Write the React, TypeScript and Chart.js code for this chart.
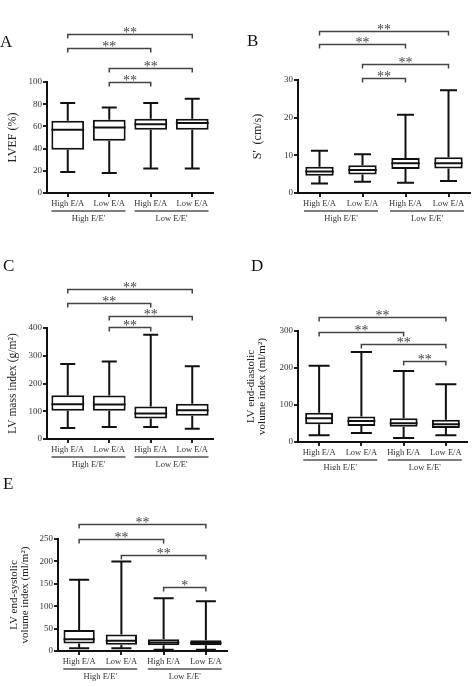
import React, { useEffect, useRef } from 'react';
import { Chart, registerables } from 'chart.js';
Chart.register(...registerables);

const FONT = "'Liberation Serif', 'DejaVu Serif', serif";

const categories = ['High E/A', 'Low E/A', 'High E/A', 'Low E/A'];
const groupLabels = ["High E/E'", "Low E/E'"];

// Panel A: LVEF (%)
const lvefMin = [19, 18, 22, 22];
const lvefQ1 = [39, 47, 57, 57];
const lvefMedian = [57, 59, 62, 63];
const lvefQ3 = [65, 66, 67, 67];
const lvefMax = [81, 77, 81, 85];
const lvefTicks = [0, 20, 40, 60, 80, 100];

// Panel B: S' (cm/s)
const sMin = [2.5, 3.0, 2.7, 3.2];
const sQ1 = [4.6, 4.9, 6.4, 6.5];
const sMedian = [5.7, 6.1, 7.9, 7.9];
const sQ3 = [7.0, 7.4, 9.3, 9.5];
const sMax = [11.2, 10.3, 20.8, 27.3];
const sTicks = [0, 10, 20, 30];

// Panel C: LV mass index (g/m2)
const massMin = [40, 43, 43, 37];
const massQ1 = [102, 102, 74, 84];
const massMedian = [125, 124, 92, 104];
const massQ3 = [158, 157, 117, 127];
const massMax = [270, 279, 376, 262];
const massTicks = [0, 100, 200, 300, 400];

// Panel D: LV end-diastolic volume index (ml/m2)
const edviMin = [18, 24, 11, 18];
const edviQ1 = [48, 43, 41, 38];
const edviMedian = [64, 57, 51, 48];
const edviQ3 = [79, 69, 64, 60];
const edviMax = [206, 243, 192, 156];
const edviTicks = [0, 100, 200, 300];

// Panel E: LV end-systolic volume index (ml/m2)
const esviMin = [6, 6, 3, 3];
const esviQ1 = [17, 14, 13, 13];
const esviMedian = [26, 23, 19, 18];
const esviQ3 = [47, 37, 26, 24];
const esviMax = [159, 200, 118, 111];
const esviTicks = [0, 50, 100, 150, 200, 250];

// Significance brackets: [from, to, level (data units), label]
const lvefSig: [number, number, number, string][] = [[0, 3, 143, '**'], [0, 2, 131, '**'], [1, 3, 113, '**'], [1, 2, 100, '**']];
const sSig: [number, number, number, string][] = [[0, 3, 43, '**'], [0, 2, 39.6, '**'], [1, 3, 34.3, '**'], [1, 2, 30.5, '**']];
const massSig: [number, number, number, string][] = [[0, 3, 540, '**'], [0, 2, 490, '**'], [1, 3, 443, '**'], [1, 2, 404, '**']];
const edviSig: [number, number, number, string][] = [[0, 3, 338, '**'], [0, 2, 297, '**'], [1, 3, 265, '**'], [2, 3, 219, '**']];
const esviSig: [number, number, number, string][] = [[0, 3, 283, '**'], [0, 2, 250, '**'], [1, 3, 214, '**'], [2, 3, 143, '*']];

type PanelCfg = {
  letter: string;
  rect: { x: number; y: number; w: number; h: number };
  letterPos: { x: number; y: number };
  yW: number; padT: number; padR: number; xH: number;
  catPct: number; cap: number;
  title: string | string[]; titleSize: number; titleLH: number; titlePad: number;
  min: number[]; q1: number[]; med: number[]; q3: number[]; max: number[];
  ticks: number[];
  sig: [number, number, number, string][];
};

const panels: PanelCfg[] = [
  {
    letter: 'A', rect: { x: 0, y: 0, w: 235, h: 230 }, letterPos: { x: 0, y: 47 },
    yW: 47, padT: 82, padR: 22, xH: 37, catPct: 0.79, cap: 15,
    title: 'LVEF (%)', titleSize: 12, titleLH: 1.2, titlePad: 6,
    min: lvefMin, q1: lvefQ1, med: lvefMedian, q3: lvefQ3, max: lvefMax, ticks: lvefTicks, sig: lvefSig,
  },
  {
    letter: 'B', rect: { x: 235, y: 0, w: 240, h: 230 }, letterPos: { x: 12, y: 46 },
    yW: 63, padT: 80, padR: 5, xH: 37, catPct: 0.66, cap: 17,
    title: "S'  (cm/s)", titleSize: 12, titleLH: 1.2, titlePad: 16,
    min: sMin, q1: sQ1, med: sMedian, q3: sQ3, max: sMax, ticks: sTicks, sig: sSig,
  },
  {
    letter: 'C', rect: { x: 0, y: 230, w: 235, h: 240 }, letterPos: { x: 3, y: 41 },
    yW: 47, padT: 98, padR: 22, xH: 31, catPct: 0.79, cap: 15,
    title: 'LV mass index (g/m²)', titleSize: 11.5, titleLH: 1.2, titlePad: 6,
    min: massMin, q1: massQ1, med: massMedian, q3: massQ3, max: massMax, ticks: massTicks, sig: massSig,
  },
  {
    letter: 'D', rect: { x: 235, y: 230, w: 240, h: 240 }, letterPos: { x: 16, y: 41 },
    yW: 63, padT: 101, padR: 8, xH: 28, catPct: 0.66, cap: 21,
    title: ['LV end-diastolic', 'volume index (ml/m²)'], titleSize: 11, titleLH: 1, titlePad: 11,
    min: edviMin, q1: edviQ1, med: edviMedian, q3: edviQ3, max: edviMax, ticks: edviTicks, sig: edviSig,
  },
  {
    letter: 'E', rect: { x: 0, y: 470, w: 240, h: 217 }, letterPos: { x: 3, y: 19 },
    yW: 58, padT: 69, padR: 13, xH: 36, catPct: 0.74, cap: 20,
    title: ['LV end-systolic', 'volume index (ml/m²)'], titleSize: 11, titleLH: 1, titlePad: 9,
    min: esviMin, q1: esviQ1, med: esviMedian, q3: esviQ3, max: esviMax, ticks: esviTicks, sig: esviSig,
  },
];

function Panel({ cfg }: { cfg: PanelCfg }) {
  const ref = useRef<HTMLCanvasElement>(null);
  useEffect(() => {
    const extras = {
      id: 'boxExtras',
      afterDatasetsDraw(chart: any) {
        const { ctx, scales } = chart;
        const x = scales.x, y = scales.y;
        const meta = chart.getDatasetMeta(0);
        ctx.save();
        ctx.strokeStyle = '#111';
        ctx.lineWidth = 2;
        ctx.lineCap = 'butt';
        cfg.min.forEach((mn, i) => {
          const cx = x.getPixelForValue(i);
          const half = meta.data[i].width / 2;
          const yMin = y.getPixelForValue(mn);
          const yMax = y.getPixelForValue(cfg.max[i]);
          const yQ1 = y.getPixelForValue(cfg.q1[i]);
          const yQ3 = y.getPixelForValue(cfg.q3[i]);
          const yMed = y.getPixelForValue(cfg.med[i]);
          ctx.beginPath();
          ctx.moveTo(cx, yQ3); ctx.lineTo(cx, yMax);
          ctx.moveTo(cx, yQ1); ctx.lineTo(cx, yMin);
          ctx.moveTo(cx - cfg.cap / 2, yMax); ctx.lineTo(cx + cfg.cap / 2, yMax);
          ctx.moveTo(cx - cfg.cap / 2, yMin); ctx.lineTo(cx + cfg.cap / 2, yMin);
          ctx.moveTo(cx - half, yMed); ctx.lineTo(cx + half, yMed);
          ctx.stroke();
        });
        ctx.restore();
      },
      afterDraw(chart: any) {
        const { ctx, scales, chartArea } = chart;
        const x = scales.x, y = scales.y;
        ctx.save();
        // significance brackets
        ctx.strokeStyle = '#444';
        ctx.lineWidth = 1.5;
        ctx.fillStyle = '#444';
        ctx.font = `14px ${FONT}`;
        ctx.textAlign = 'center';
        ctx.textBaseline = 'alphabetic';
        cfg.sig.forEach(([a, b, level, label]) => {
          const x1 = x.getPixelForValue(a);
          const x2 = x.getPixelForValue(b);
          const yy = Math.round(y.getPixelForValue(level)) + 0.5;
          ctx.beginPath();
          ctx.moveTo(x1, yy + 4); ctx.lineTo(x1, yy); ctx.lineTo(x2, yy); ctx.lineTo(x2, yy + 4);
          ctx.stroke();
          ctx.fillText(label, (x1 + x2) / 2, yy + 2);
        });
        // group labels
        ctx.font = `8.5px ${FONT}`;
        ctx.fillStyle = '#333';
        ctx.strokeStyle = '#555';
        ctx.textBaseline = 'middle';
        groupLabels.forEach((g, gi) => {
          const c = (x.getPixelForValue(gi * 2) + x.getPixelForValue(gi * 2 + 1)) / 2;
          const ly = chartArea.bottom + 18;
          ctx.beginPath();
          ctx.moveTo(c - 37, ly); ctx.lineTo(c + 37, ly);
          ctx.stroke();
          ctx.fillText(g, c, chartArea.bottom + 26);
        });
        // panel letter
        ctx.font = `17px ${FONT}`;
        ctx.fillStyle = '#111';
        ctx.textAlign = 'left';
        ctx.textBaseline = 'alphabetic';
        ctx.fillText(cfg.letter, cfg.letterPos.x, cfg.letterPos.y);
        ctx.restore();
      },
    };

    const tickMin = cfg.ticks[0];
    const tickMax = cfg.ticks[cfg.ticks.length - 1];
    const step = cfg.ticks[1] - cfg.ticks[0];

    const chart = new Chart(ref.current!, {
      type: 'bar',
      data: {
        labels: categories,
        datasets: [{
          data: cfg.q1.map((q, i) => [q, cfg.q3[i]]) as any,
          backgroundColor: '#ffffff',
          borderColor: '#111',
          borderWidth: 2,
          borderSkipped: false,
          barPercentage: 1,
          categoryPercentage: cfg.catPct,
        }],
      },
      options: {
        animation: false,
        responsive: false,
        events: [],
        layout: { padding: { left: 0, top: cfg.padT, right: cfg.padR, bottom: 0 } },
        plugins: { legend: { display: false }, tooltip: { enabled: false } },
        scales: {
          x: {
            afterFit: (s: any) => { s.height = cfg.xH; },
            grid: { offset: false, drawOnChartArea: false, drawTicks: true, tickLength: 4, color: '#222', lineWidth: 2 },
            border: { display: true, color: '#111', width: 2 },
            ticks: { color: '#333', font: { family: FONT, size: 8.5 }, padding: 2, maxRotation: 0, autoSkip: false },
          },
          y: {
            min: tickMin,
            max: tickMax,
            afterFit: (s: any) => { s.width = cfg.yW; },
            grid: { drawOnChartArea: false, drawTicks: true, tickLength: 4, color: '#222', lineWidth: 2 },
            border: { display: true, color: '#111', width: 2 },
            ticks: { stepSize: step, color: '#333', font: { family: FONT, size: 9 }, padding: 1 },
            title: {
              display: true,
              text: cfg.title,
              color: '#222',
              font: { family: FONT, size: cfg.titleSize, lineHeight: cfg.titleLH },
              padding: { top: cfg.titlePad, bottom: 0 },
            },
          },
        },
      } as any,
      plugins: [extras],
    });
    return () => chart.destroy();
  }, []);
  return (
    <canvas
      ref={ref}
      width={cfg.rect.w}
      height={cfg.rect.h}
      style={{ position: 'absolute', left: cfg.rect.x, top: cfg.rect.y, width: cfg.rect.w, height: cfg.rect.h }}
    />
  );
}

export default function App() {
  return (
    <div style={{ position: 'absolute', left: 0, top: 0, width: 475, height: 687, background: '#fff' }}>
      {panels.map((p) => <Panel key={p.letter} cfg={p} />)}
    </div>
  );
}
